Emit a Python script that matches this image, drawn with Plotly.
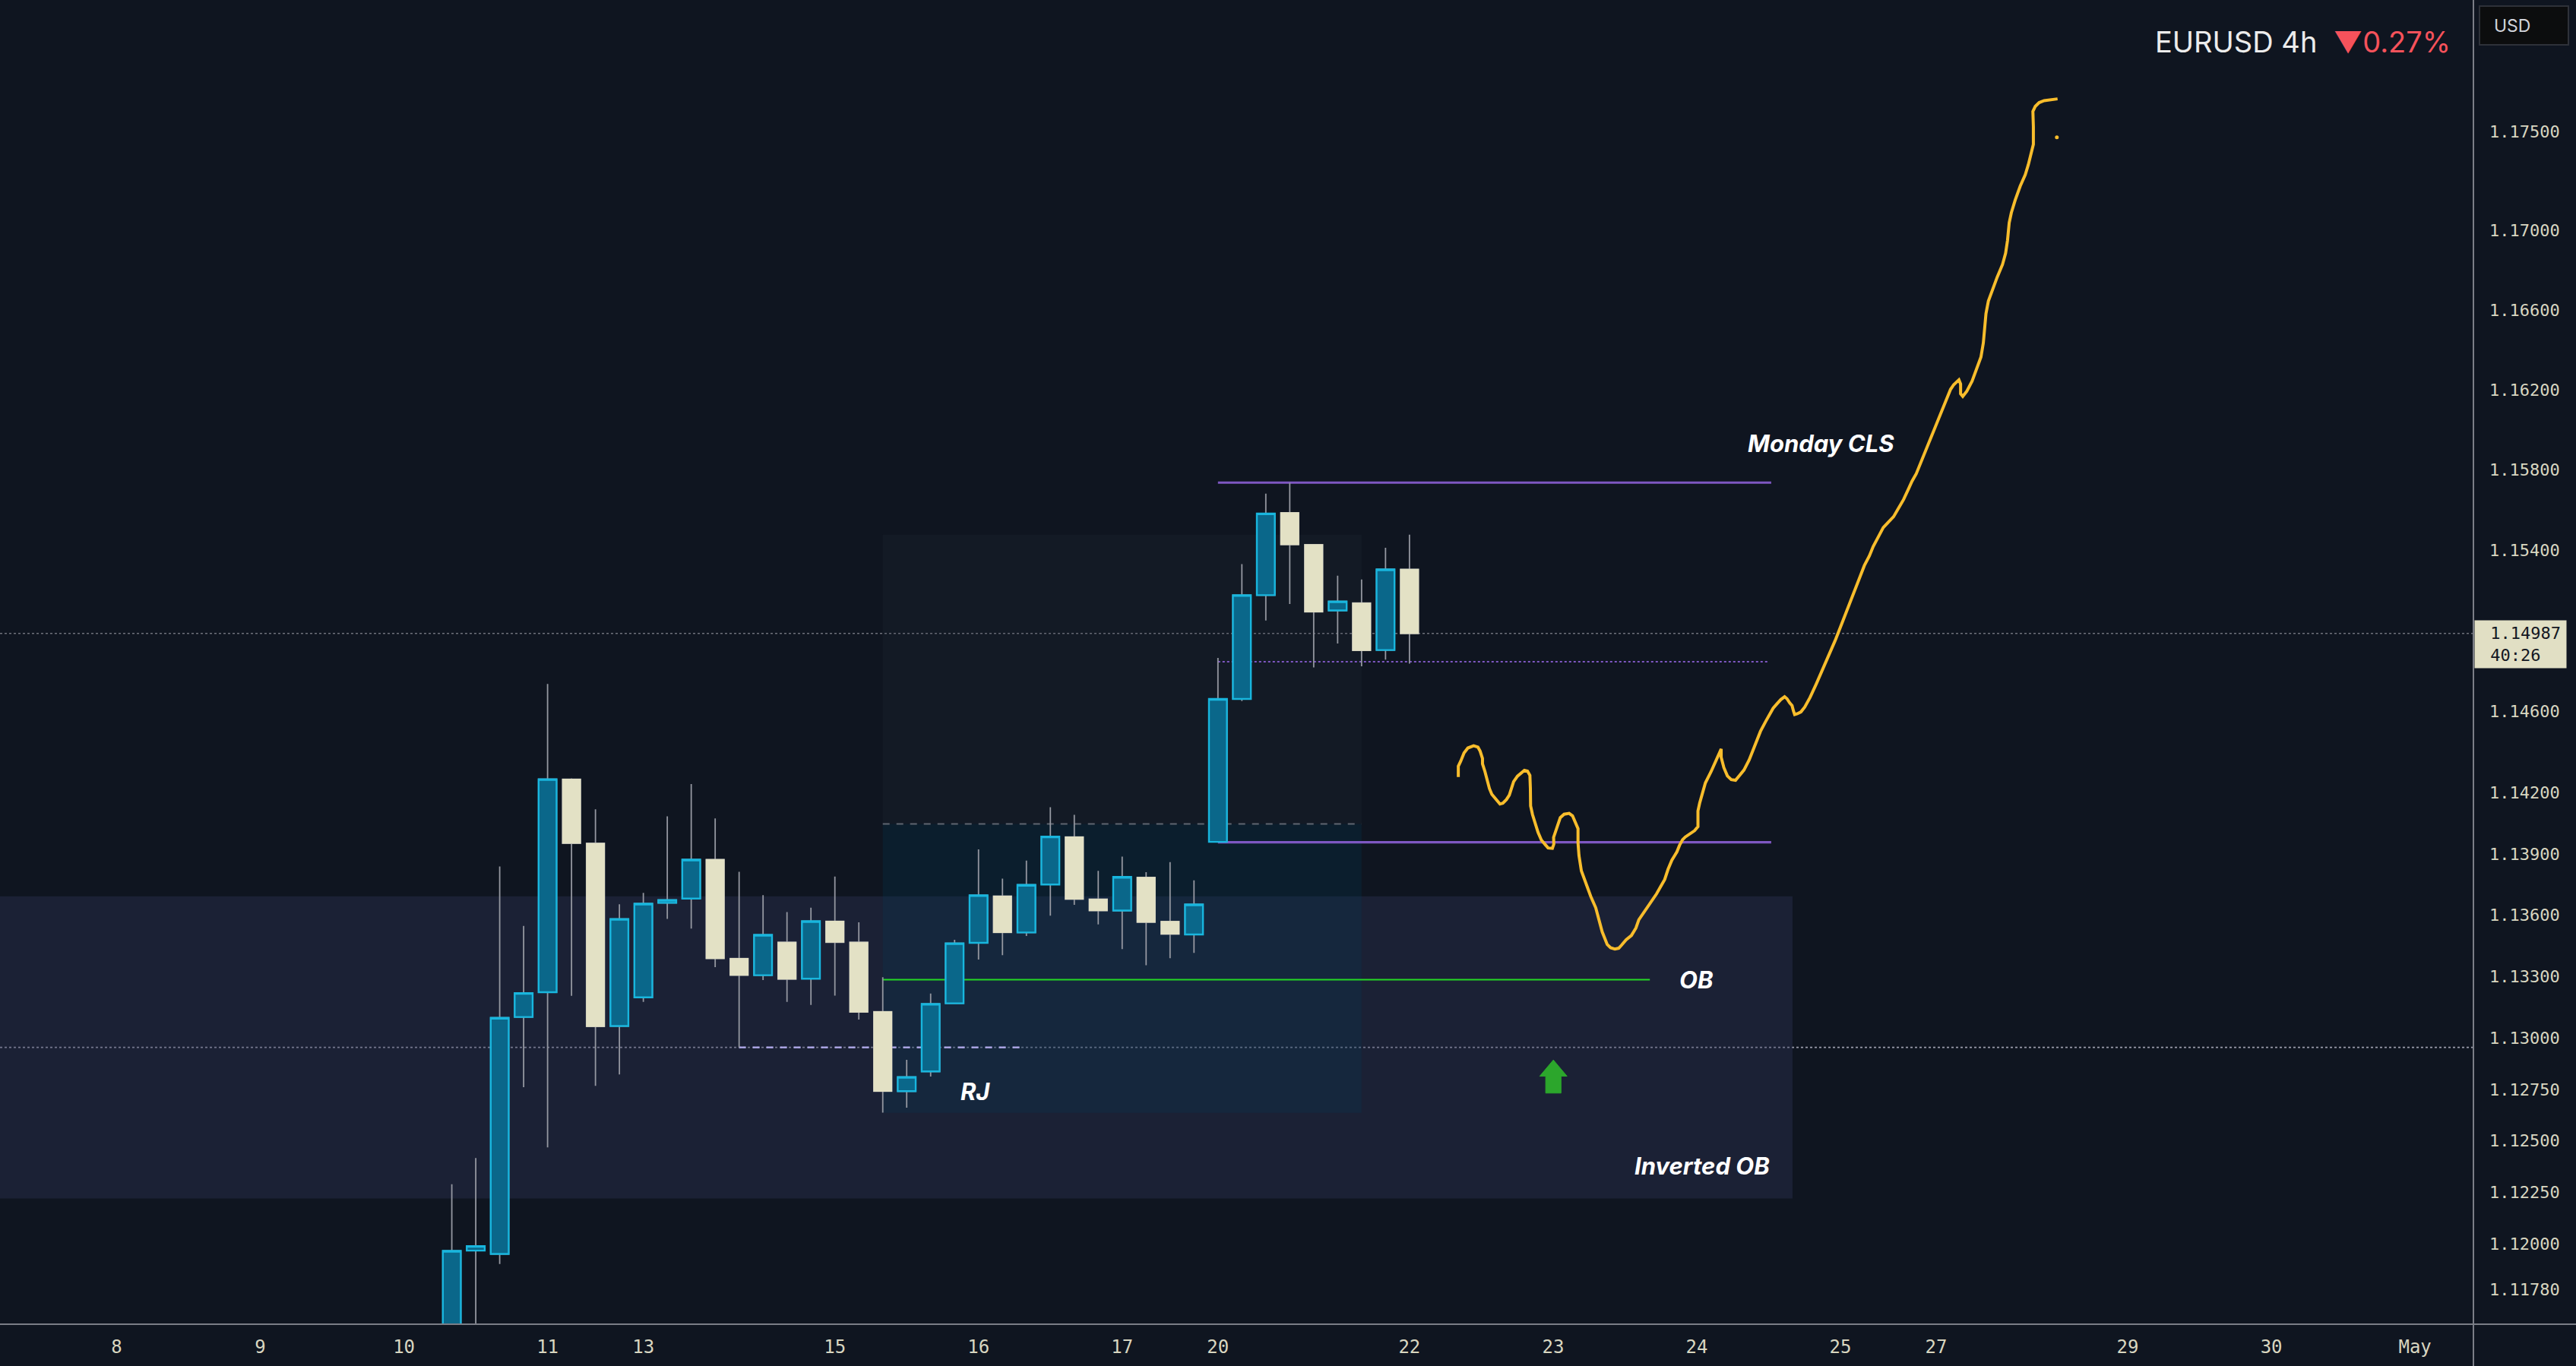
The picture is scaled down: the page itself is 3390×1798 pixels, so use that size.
import math
import plotly.graph_objects as go

# ---------------- data ----------------
bar_index = list(range(14, 55))
opens = [1.11200, 1.11969, 1.11953, 1.13102, 1.13223, 1.14267, 1.13952, 1.13058, 1.13198, 1.13660,
         1.13681, 1.13872, 1.13388, 1.13306, 1.13467, 1.13289, 1.13570, 1.13467, 1.13128, 1.12741,
         1.12837, 1.13169, 1.13464, 1.13693, 1.13515, 1.13750, 1.13983, 1.13678, 1.13622, 1.13785,
         1.13569, 1.13505, 1.13959, 1.14663, 1.15177, 1.15587, 1.15428, 1.15101, 1.15138, 1.14905,
         1.15305]
highs = [1.12290, 1.12417, 1.13838, 1.13547, 1.14737, 1.14271, 1.14119, 1.13653, 1.13709, 1.14084,
         1.14243, 1.14074, 1.13812, 1.13698, 1.13615, 1.13636, 1.13789, 1.13565, 1.13296, 1.12894,
         1.13217, 1.13479, 1.13922, 1.13779, 1.13867, 1.14129, 1.14092, 1.13817, 1.13887, 1.13810,
         1.13860, 1.13770, 1.14866, 1.15331, 1.15682, 1.15736, 1.15430, 1.15274, 1.15255, 1.15413,
         1.15478]
lows = [1.11100, 1.11500, 1.11905, 1.12761, 1.12468, 1.13205, 1.12767, 1.12822, 1.13176, 1.13581,
        1.13534, 1.13345, 1.12954, 1.13282, 1.13176, 1.13161, 1.13206, 1.13090, 1.12637, 1.12661,
        1.12812, 1.13169, 1.13383, 1.13404, 1.13498, 1.13597, 1.13650, 1.13554, 1.13434, 1.13355,
        1.13389, 1.13415, 1.13957, 1.14653, 1.15051, 1.15133, 1.14819, 1.14937, 1.14825, 1.14857,
        1.14838]
closes = [1.11968, 1.11991, 1.13098, 1.13219, 1.14267, 1.13952, 1.13056, 1.13581, 1.13656, 1.13674,
          1.13872, 1.13388, 1.13306, 1.13503, 1.13287, 1.13570, 1.13467, 1.13126, 1.12741, 1.12810,
          1.13166, 1.13462, 1.13697, 1.13515, 1.13748, 1.13985, 1.13678, 1.13622, 1.13787, 1.13565,
          1.13507, 1.13652, 1.14663, 1.15177, 1.15583, 1.15428, 1.15094, 1.15146, 1.14903, 1.15305,
          1.14987]

x_tick_index = [0, 6, 12, 18, 22, 30, 36, 42, 46, 54, 60, 66, 72, 76, 84, 90, 96]
x_tick_text = ["8", "9", "10", "11", "13", "15", "16", "17", "20", "22", "23", "24", "25", "27",
               "29", "30", "May"]
y_tick_vals = [1.175, 1.170, 1.166, 1.162, 1.158, 1.154, 1.146, 1.142, 1.139, 1.136, 1.133, 1.130,
               1.1275, 1.125, 1.1225, 1.120, 1.1178]
y_tick_text = ["1.17500", "1.17000", "1.16600", "1.16200", "1.15800", "1.15400", "1.14600",
               "1.14200", "1.13900", "1.13600", "1.13300", "1.13000", "1.12750", "1.12500",
               "1.12250", "1.12000", "1.11780"]

last_price = 1.14987
countdown = "40:26"

# drawn projection path (bar index, price)
path_x = [56.04, 56.04, 56.14, 56.28, 56.44, 56.68, 56.86, 56.95, 57.05, 57.05,
          57.15, 57.24, 57.34, 57.44, 57.58, 57.68, 57.78, 57.90, 58.05, 58.17,
          58.25, 58.35, 58.51, 58.66, 58.80, 58.93, 59.03, 59.05, 59.06, 59.14,
          59.24, 59.37, 59.51, 59.67, 59.79, 59.97, 60.03, 60.02, 60.09, 60.20,
          60.30, 60.46, 60.67, 60.81, 60.94, 61.04, 61.04, 61.08, 61.18, 61.36,
          61.57, 61.78, 61.91, 62.05, 62.26, 62.40, 62.58, 62.74, 62.86, 63.05,
          63.27, 63.46, 63.58, 63.74, 63.92, 64.11, 64.32, 64.50, 64.66, 64.80,
          64.96, 65.08, 65.17, 65.28, 65.41, 65.52, 65.70, 65.91, 66.05, 66.05,
          66.12, 66.23, 66.36, 66.60, 66.81, 67.02, 67.02, 67.13, 67.28, 67.44,
          67.62, 67.76, 67.97, 68.19, 68.34, 68.50, 68.66, 68.87, 69.03, 69.19,
          69.35, 69.51, 69.67, 69.77, 69.88, 69.98, 70.04, 70.09, 70.20, 70.35,
          70.51, 70.73, 70.99, 71.25, 71.52, 71.78, 72.05, 72.31, 72.58, 72.84,
          73.00, 73.21, 73.37, 73.58, 73.79, 74.00, 74.22, 74.43, 74.64, 74.85,
          74.99, 75.17, 75.33, 75.49, 75.65, 75.85, 76.01, 76.17, 76.33, 76.49,
          76.60, 76.73, 76.86, 76.95, 77.02, 77.02, 77.11, 77.28, 77.50, 77.71,
          77.87, 77.97, 78.02, 78.08, 78.18, 78.34, 78.55, 78.77, 78.90, 78.98,
          79.05, 79.14, 79.30, 79.51, 79.72, 79.85, 79.98, 80.06, 80.06, 80.04,
          80.14, 80.30, 80.51, 80.77, 81.07]
path_p = [1.14278, 1.14331, 1.14356, 1.14397, 1.14421, 1.14432, 1.14425, 1.14406, 1.14369, 1.14343,
          1.14306, 1.14261, 1.14221, 1.14193, 1.14174, 1.14161, 1.14145, 1.14149, 1.14167, 1.14189,
          1.14224, 1.14255, 1.14282, 1.14298, 1.14311, 1.14307, 1.14286, 1.14224, 1.14136, 1.14093,
          1.14049, 1.14006, 1.13968, 1.13944, 1.13929, 1.13927, 1.13948, 1.13981, 1.14006, 1.14043,
          1.14078, 1.14095, 1.14099, 1.14087, 1.14053, 1.14024, 1.13954, 1.13892, 1.13817, 1.13755,
          1.13692, 1.13636, 1.13580, 1.13518, 1.13456, 1.13440, 1.13434, 1.13438, 1.13453, 1.13479,
          1.13500, 1.13537, 1.13577, 1.13605, 1.13632, 1.13667, 1.13704, 1.13741, 1.13774, 1.13824,
          1.13869, 1.13892, 1.13910, 1.13942, 1.13970, 1.13983, 1.13999, 1.14014, 1.14034, 1.14111,
          1.14149, 1.14193, 1.14249, 1.14305, 1.14362, 1.14416, 1.14375, 1.14325, 1.14283, 1.14265,
          1.14262, 1.14281, 1.14312, 1.14362, 1.14409, 1.14463, 1.14503, 1.14550, 1.14583, 1.14617,
          1.14639, 1.14660, 1.14674, 1.14664, 1.14644, 1.14630, 1.14603, 1.14586, 1.14590, 1.14599,
          1.14623, 1.14670, 1.14737, 1.14805, 1.14879, 1.14952, 1.15033, 1.15114, 1.15196, 1.15284,
          1.15324, 1.15372, 1.15419, 1.15466, 1.15513, 1.15540, 1.15567, 1.15610, 1.15653, 1.15707,
          1.15744, 1.15782, 1.15829, 1.15872, 1.15917, 1.15978, 1.16027, 1.16074, 1.16115, 1.16162,
          1.16203, 1.16226, 1.16240, 1.16251, 1.16230, 1.16181, 1.16168, 1.16194, 1.16244, 1.16308,
          1.16365, 1.16436, 1.16506, 1.16583, 1.16646, 1.16703, 1.16767, 1.16830, 1.16887, 1.16951,
          1.17040, 1.17091, 1.17155, 1.17225, 1.17283, 1.17334, 1.17392, 1.17437, 1.17526, 1.17603,
          1.17629, 1.17648, 1.17658, 1.17663, 1.17667]
dot_x = [81.04]
dot_p = [1.17472]

# zones / levels (bar index, price)
inv_ob_x = [-10, 70]
inv_ob_p = [1.12221, 1.13692]
rj_box_x = [32, 52]
rj_box_p = [1.12636, 1.14047, 1.15478]
monday_x = [46, 69.11]
monday_high = 1.15737
monday_low = 1.13957
monday_mid_x = [46, 69.0]
monday_mid = 1.14847
ob_x = [32, 64.04]
ob_price = 1.13284
rj_level_x = [26, 38]
rj_level = 1.12954

arrow_x = [59.44, 60.01, 60.58, 60.33, 60.33, 59.69, 59.69, 59.44]
arrow_p = [1.12814, 1.12893, 1.12814, 1.12814, 1.12732, 1.12732, 1.12814, 1.12814]

# ---------------- styling ----------------
BG = "#0f1520"
UP_FILL = "#0a678a"
UP_LINE = "#18b6de"
DN_FILL = "#e3e1c5"
WICK = "#9497a0"
AXIS_TXT = "#d8d6c0"
AXIS_LINE = "#7b7e87"

body_top = [max(o, c) for o, c in zip(opens, closes)]
body_bot = [min(o, c) for o, c in zip(opens, closes)]

fig = go.Figure()

# wicks
fig.add_trace(go.Candlestick(
    x=bar_index, open=opens, high=highs, low=lows, close=closes,
    increasing=dict(line=dict(color=WICK, width=1.8), fillcolor="rgba(0,0,0,0)"),
    decreasing=dict(line=dict(color=WICK, width=1.8), fillcolor="rgba(0,0,0,0)"),
    whiskerwidth=0, showlegend=False, hoverinfo="skip"))
# bodies
fig.add_trace(go.Candlestick(
    x=bar_index, open=opens, high=body_top, low=body_bot, close=closes,
    increasing=dict(line=dict(color=UP_LINE, width=2.4), fillcolor=UP_FILL),
    decreasing=dict(line=dict(color=DN_FILL, width=1.2), fillcolor=DN_FILL),
    whiskerwidth=0, showlegend=False, hoverinfo="skip"))

# projection path
fig.add_trace(go.Scatter(x=path_x, y=path_p, mode="lines",
                         line=dict(color="#f8bd2c", width=4, shape="linear"),
                         showlegend=False, hoverinfo="skip"))
fig.add_trace(go.Scatter(x=dot_x, y=dot_p, mode="markers",
                         marker=dict(color="#f8bd2c", size=5),
                         showlegend=False, hoverinfo="skip"))
# green arrow
fig.add_trace(go.Scatter(x=arrow_x, y=arrow_p, mode="lines", fill="toself",
                         fillcolor="#2ca62c", line=dict(color="#2ca62c", width=1),
                         showlegend=False, hoverinfo="skip"))

shapes = []
# Inverted OB zone
shapes.append(dict(type="rect", xref="x", yref="y", x0=inv_ob_x[0], x1=inv_ob_x[1],
                   y0=inv_ob_p[0], y1=inv_ob_p[1], fillcolor="rgba(50,56,92,0.36)",
                   line=dict(width=0), layer="below"))
# RJ box upper (gray) and lower (teal)
shapes.append(dict(type="rect", xref="x", yref="y", x0=rj_box_x[0], x1=rj_box_x[1],
                   y0=rj_box_p[1], y1=rj_box_p[2], fillcolor="rgba(45,55,66,0.16)",
                   line=dict(width=0), layer="below"))
shapes.append(dict(type="rect", xref="x", yref="y", x0=rj_box_x[0], x1=rj_box_x[1],
                   y0=rj_box_p[0], y1=rj_box_p[1], fillcolor="rgba(0,62,92,0.22)",
                   line=dict(width=0), layer="below"))
shapes.append(dict(type="line", xref="x", yref="y", x0=rj_box_x[0], x1=rj_box_x[1],
                   y0=rj_box_p[1], y1=rj_box_p[1],
                   line=dict(color="#5f6470", width=2, dash="dash"), layer="below"))
# full-width dotted lines
shapes.append(dict(type="line", xref="paper", yref="y", x0=0, x1=1, y0=last_price, y1=last_price,
                   line=dict(color="#6e717b", width=1.6, dash="dot"), layer="below"))
shapes.append(dict(type="line", xref="paper", yref="y", x0=0, x1=1, y0=rj_level, y1=rj_level,
                   line=dict(color="#9a9cab", width=1.6, dash="dot"), layer="below"))
shapes.append(dict(type="line", xref="x", yref="y", x0=rj_level_x[0], x1=rj_level_x[1],
                   y0=rj_level, y1=rj_level,
                   line=dict(color="#b4acef", width=2.2, dash="dash"), layer="below"))
# Monday range
for lvl in (monday_high, monday_low):
    shapes.append(dict(type="line", xref="x", yref="y", x0=monday_x[0], x1=monday_x[1],
                       y0=lvl, y1=lvl, line=dict(color="#7e57c2", width=3.2), layer="below"))
shapes.append(dict(type="line", xref="x", yref="y", x0=monday_mid_x[0], x1=monday_mid_x[1],
                   y0=monday_mid, y1=monday_mid,
                   line=dict(color="#7e57c2", width=2, dash="dot"), layer="below"))
# OB level
shapes.append(dict(type="line", xref="x", yref="y", x0=ob_x[0], x1=ob_x[1], y0=ob_price,
                   y1=ob_price, line=dict(color="#25d925", width=2), layer="below"))
# axis frame lines
shapes.append(dict(type="line", xref="paper", yref="paper", x0=0, x1=1.05, y0=0, y1=0,
                   line=dict(color=AXIS_LINE, width=2)))
shapes.append(dict(type="line", xref="paper", yref="paper", x0=1, x1=1, y0=-0.04, y1=1.0,
                   line=dict(color=AXIS_LINE, width=2)))

lbl_font = dict(family="Inter, Roboto, sans-serif", size=31, color="#ffffff",
                weight="bold", style="italic")
L = math.log10
annotations = [
    dict(x=74.32, y=L(1.15934), xref="x", yref="y", text="Monday CLS", showarrow=False,
         xanchor="right", yanchor="middle", font=lbl_font),
    dict(x=65.2, y=L(ob_price), xref="x", yref="y", text="OB", showarrow=False,
         xanchor="left", yanchor="middle", font=lbl_font),
    dict(x=35.85, y=L(1.12739), xref="x", yref="y", text="RJ", showarrow=False,
         xanchor="center", yanchor="middle", font=lbl_font),
    dict(x=69.12, y=L(1.12379), xref="x", yref="y", text="Inverted OB", showarrow=False,
         xanchor="right", yanchor="middle", font=lbl_font),
    dict(x=1, y=1, xref="paper", yref="paper", xanchor="right", yanchor="middle",
         xshift=-28, yshift=-55, showarrow=False,
         text="EURUSD 4h  <span style='color:#f6525b'>▼0.27%</span>",
         font=dict(family="Inter, Roboto, sans-serif", size=38, color="#ececec")),
    dict(x=1, y=1, xref="paper", yref="paper", xanchor="left", yanchor="top",
         xshift=7, yshift=-7, showarrow=False, text="&nbsp;&nbsp;USD", align="left",
         width=105, height=39, bgcolor="#0c0d0e", bordercolor="#2e3139", borderwidth=2,
         borderpad=5, font=dict(family="Inter, Roboto, sans-serif", size=23, color="#d1d4dc")),
    dict(x=1, y=L(last_price), xref="paper", yref="y", xanchor="left", yanchor="top",
         xshift=1, yshift=18, showarrow=False,
         text=f"&nbsp;{last_price:.5f}<br>&nbsp;{countdown}",
         align="left", width=106, height=48, bgcolor="#e1dfc4", borderpad=7,
         font=dict(family="DejaVu Sans Mono", size=22, color="#131722")),
]

fig.update_layout(
    width=3390, height=1798,
    margin=dict(l=0, r=135, t=0, b=55),
    paper_bgcolor=BG, plot_bgcolor=BG,
    shapes=shapes, annotations=annotations,
    showlegend=False, hovermode=False,
    boxgap=0.25, boxgroupgap=0,
    xaxis=dict(range=[-4.872, 98.44], tickmode="array", tickvals=x_tick_index,
               ticktext=x_tick_text, showgrid=False, zeroline=False, showline=False,
               ticks="", ticklabelstandoff=13, rangeslider=dict(visible=False),
               tickfont=dict(family="DejaVu Sans Mono", size=24, color=AXIS_TXT)),
    yaxis=dict(type="log", range=[0.047721, 0.072505], side="right", tickmode="array",
               tickvals=y_tick_vals, ticktext=y_tick_text, showgrid=False, zeroline=False,
               showline=False, ticks="", ticklabelstandoff=20,
               tickfont=dict(family="DejaVu Sans Mono", size=22, color=AXIS_TXT)),
)

fig.write_html("out.html")
